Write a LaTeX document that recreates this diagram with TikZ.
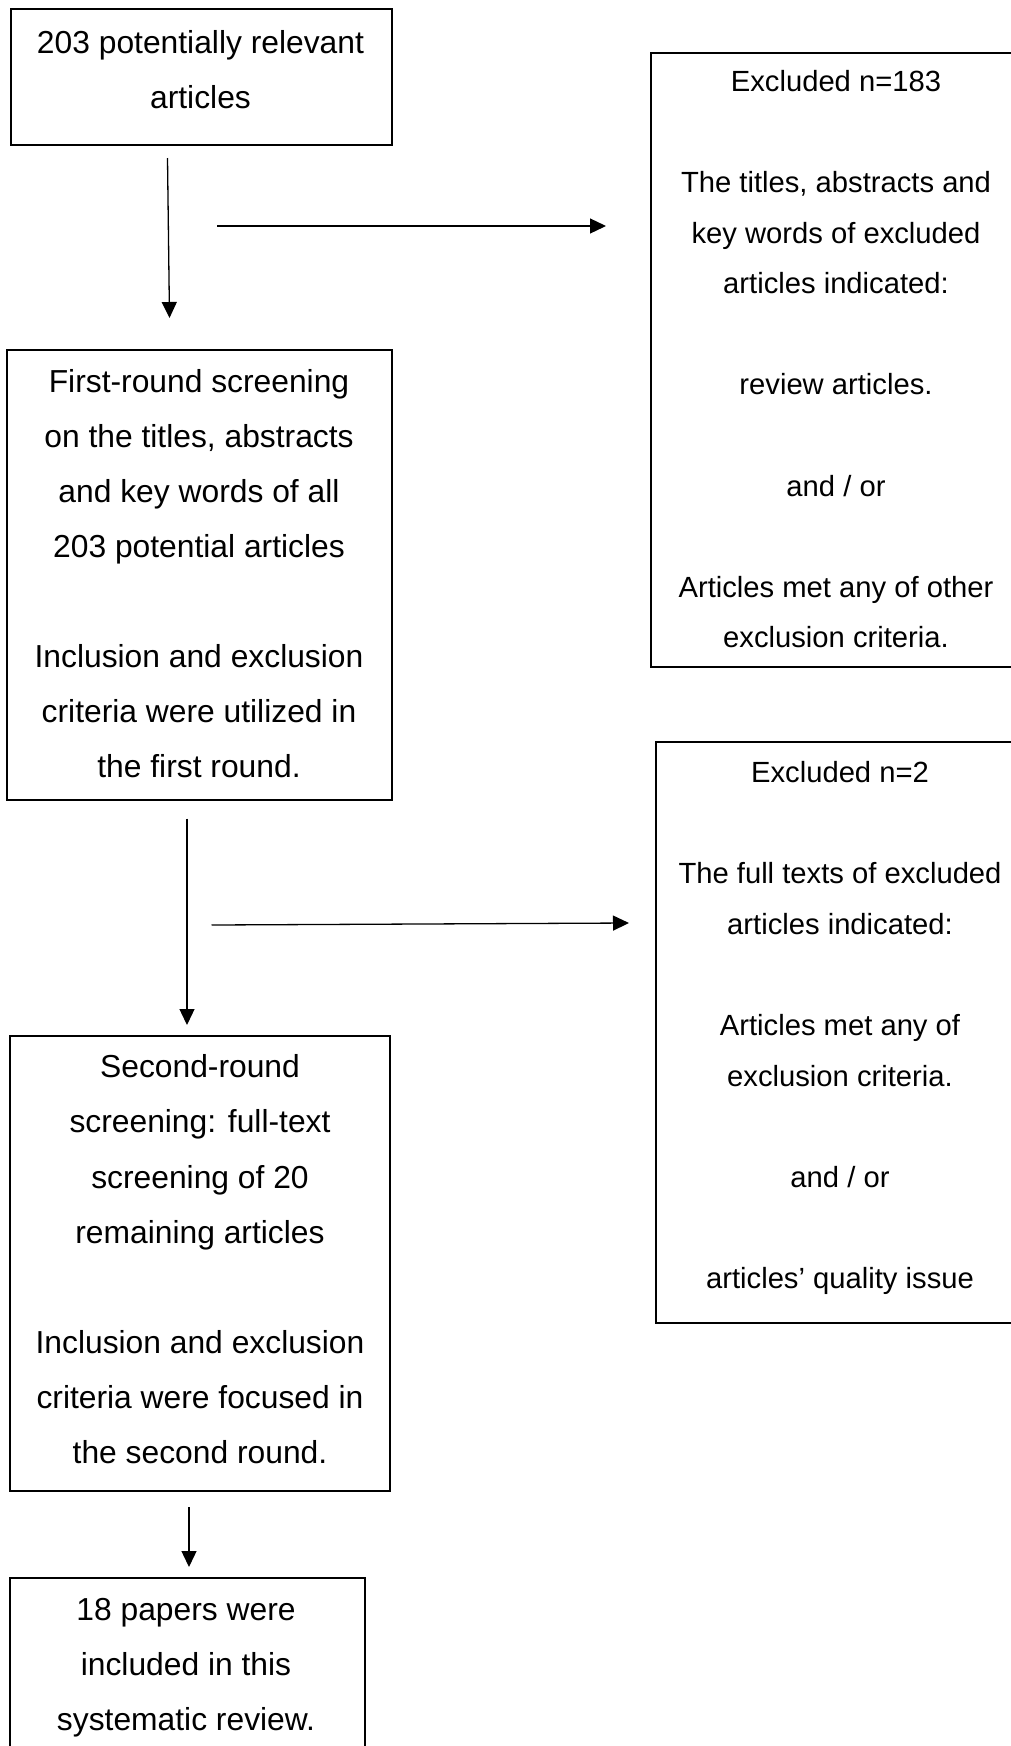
\documentclass[tikz,border=0pt]{standalone}
\usepackage{fontspec}
\setmainfont{Liberation Sans}
\usetikzlibrary{arrows.meta}
\begin{document}
\begin{tikzpicture}[x=1pt,y=-1pt,
  box/.style={draw, line width=2pt, inner sep=0pt, outer sep=0pt, anchor=north west},
  ltxt/.style={font=\fontsize{31.8}{55.1}\selectfont, align=center, inner sep=0pt, anchor=base},
  rtxt/.style={font=\fontsize{29.2}{50.6}\selectfont, align=center, inner sep=0pt, anchor=base},
  arr/.style={line width=1.3pt, -{Triangle[length=16pt,width=15pt]}}]
\useasboundingbox (0,0) rectangle (1011,1746);
\clip (0,0) rectangle (1011,1746);
% boxes
\node[box, minimum width=381pt, minimum height=136pt] (b1) at (11,9) {};
\node[box, minimum width=385.5pt, minimum height=450pt] (b2) at (6.5,350) {};
\node[box, minimum width=380.3pt, minimum height=455pt] (b3) at (9.7,1036) {};
\node[box, minimum width=355.5pt, minimum height=260pt] (b4) at (9.5,1578) {};
\node[box, minimum width=370pt, minimum height=614pt] (r1) at (651,53) {};
\node[box, minimum width=368pt, minimum height=581pt] (r2) at (656,742) {};
% texts (anchor base = baseline of the last line)
\node[ltxt] (t1) at (200.5,108.1) {203 potentially relevant\\articles};
\node[ltxt] (t2) at (199,777.7) {First-round screening\\on the titles, abstracts\\and key words of all\\203 potential articles\\\mbox{}\\Inclusion and exclusion\\criteria were utilized in\\the first round.};
\node[ltxt] (t3) at (200,1463.5) {Second-round\\screening: full-text\\screening of 20\\remaining articles\\\mbox{}\\Inclusion and exclusion\\criteria were focused in\\the second round.};
\node[ltxt] (t4) at (186,1730.2) {18 papers were\\included in this\\systematic review.};
\node[rtxt] (tr1) at (836,647.8) {Excluded n=183\\\mbox{}\\The titles, abstracts and\\key words of excluded\\articles indicated:\\\mbox{}\\review articles.\\\mbox{}\\and / or\\\mbox{}\\Articles met any of other\\exclusion criteria.};
\node[rtxt] (tr2) at (840,1288.5) {Excluded n=2\\\mbox{}\\The full texts of excluded\\articles indicated:\\\mbox{}\\Articles met any of\\exclusion criteria.\\\mbox{}\\and / or\\\mbox{}\\articles’ quality issue};
% arrow end points
\coordinate (a1s) at (167.5,158);
\coordinate (a1e) at (169.5,318);
\coordinate (h1s) at (217,226);
\coordinate (h1e) at (606,226);
\coordinate (a2s) at (187,818.6);
\coordinate (a2e) at (187,1025);
\coordinate (h2s) at (211.5,925);
\coordinate (h2e) at (629,923);
\coordinate (a3s) at (189,1507);
\coordinate (a3e) at (189,1567);
\draw[arr] (a1s) -- (a1e);
\draw[arr] (h1s) -- (h1e);
\draw[arr] (a2s) -- (a2e);
\draw[arr] (h2s) -- (h2e);
\draw[arr] (a3s) -- (a3e);
\end{tikzpicture}
\end{document}
